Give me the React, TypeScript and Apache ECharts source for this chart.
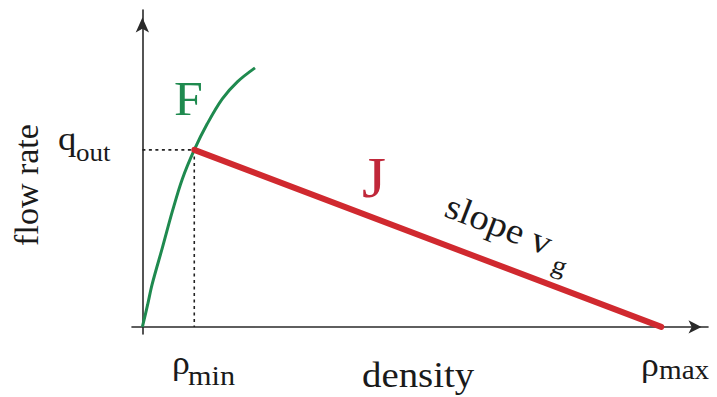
import React, { useEffect, useRef } from "react";
import * as echarts from "echarts";

// ---- data (density units: rho_max = 1; flow units: q_out = 1) ----
const curveDensity = [0, 0.01, 0.019, 0.039, 0.058, 0.077, 0.1, 0.125, 0.154, 0.183, 0.217];
const curveFlow = [0, 0.124, 0.243, 0.452, 0.655, 0.836, 1.0, 1.147, 1.288, 1.384, 1.463];
const rhoMin = 0.1;
const rhoMax = 1;
const qOut = 1;

// ---- texts ----
const yTitle = "flow rate";
const xTitle = "density";
const qMain = "q";
const qSub = "out";
const rhoSym = "ρ";
const minSub = "min";
const maxSub = "max";
const fLabel = "F";
const jLabel = "J";
const slopeMain = "slope v";
const slopeSub = "g";

const SERIF = "Liberation Serif";
const GREEN = "#1f8a4f";
const RED = "#d0292f";
const AXIS = "#2a2a2a";
const SX = 1.08;

function txt(text: string, x: number, y: number, size: number, fill = "#1a1a1a", extra: any = {}) {
  return {
    type: "text",
    x,
    y,
    scaleX: extra.scaleX ?? SX,
    rotation: extra.rotation ?? 0,
    style: {
      text,
      fill,
      fontFamily: SERIF,
      fontSize: size,
      fontWeight: "normal",
      textAlign: extra.align ?? "left",
      textVerticalAlign: "middle",
      verticalAlign: "middle",
    },
    z: 10,
  };
}

export default function App() {
  const ref = useRef<HTMLDivElement>(null);
  useEffect(() => {
    if (!ref.current) return;
    const chart = echarts.init(ref.current, undefined, { renderer: "svg" });
    const rot = -0.367;
    chart.setOption({
      animation: false,
      backgroundColor: "#ffffff",
      textStyle: { fontFamily: SERIF },
      grid: { left: 132, right: 9, top: 10, bottom: 63 },
      xAxis: {
        type: "value",
        min: -0.02,
        max: 1.09,
        axisLabel: { show: false },
        axisTick: { show: false },
        splitLine: { show: false },
        axisLine: {
          onZero: true,
          lineStyle: { color: AXIS, width: 1.6 },
          symbol: ["none", "arrow"],
          symbolSize: [10, 13],
          symbolOffset: [0, -6.5],
        },
      },
      yAxis: {
        type: "value",
        min: -0.04,
        max: 1.79,
        axisLabel: { show: false },
        axisTick: { show: false },
        splitLine: { show: false },
        axisLine: {
          onZero: true,
          lineStyle: { color: AXIS, width: 1.6 },
          symbol: ["none", "arrow"],
          symbolSize: [10, 15],
          symbolOffset: [0, -7.5],
        },
      },
      series: [
        {
          type: "line",
          data: [
            [0, qOut],
            [rhoMin, qOut],
            [rhoMin, 0],
          ],
          symbol: "none",
          lineStyle: { color: "#222", width: 1.6, type: [3, 3.5] },
          z: 1,
        },
        {
          type: "line",
          data: curveDensity.map((d, i) => [d, curveFlow[i]]),
          symbol: "none",
          smooth: 0.35,
          lineStyle: { color: GREEN, width: 3 },
          z: 2,
        },
        {
          type: "line",
          data: [
            [rhoMin, qOut],
            [rhoMax, 0],
          ],
          symbol: "none",
          lineStyle: { color: RED, width: 6, cap: "round" },
          z: 3,
        },
      ],
      graphic: [
        txt(yTitle, 26.5, 185, 34, "#1a1a1a", { rotation: Math.PI / 2, align: "center", scaleX: 1 }),
        txt(xTitle, 362, 375, 36),
        txt(qMain, 58, 138.5, 34),
        txt(qSub, 76, 153.3, 25),
        txt(rhoSym, 172, 362, 33),
        txt(minSub, 188, 375.5, 28),
        txt(rhoSym, 641, 364, 33),
        txt(maxSub, 659, 369.5, 27),
        txt(fLabel, 174, 98.5, 48, GREEN),
        txt(jLabel, 362, 178, 57, "#c0283a"),
        txt(slopeMain, 447, 204.5, 36, "#1a1a1a", { rotation: rot }),
        txt(slopeSub, 553, 263, 26, "#1a1a1a", { rotation: rot }),
      ],
    });
    return () => chart.dispose();
  }, []);
  return (
    <div
      ref={ref}
      style={{ position: "fixed", left: 0, top: 0, width: 717, height: 397, background: "#fff" }}
    />
  );
}
